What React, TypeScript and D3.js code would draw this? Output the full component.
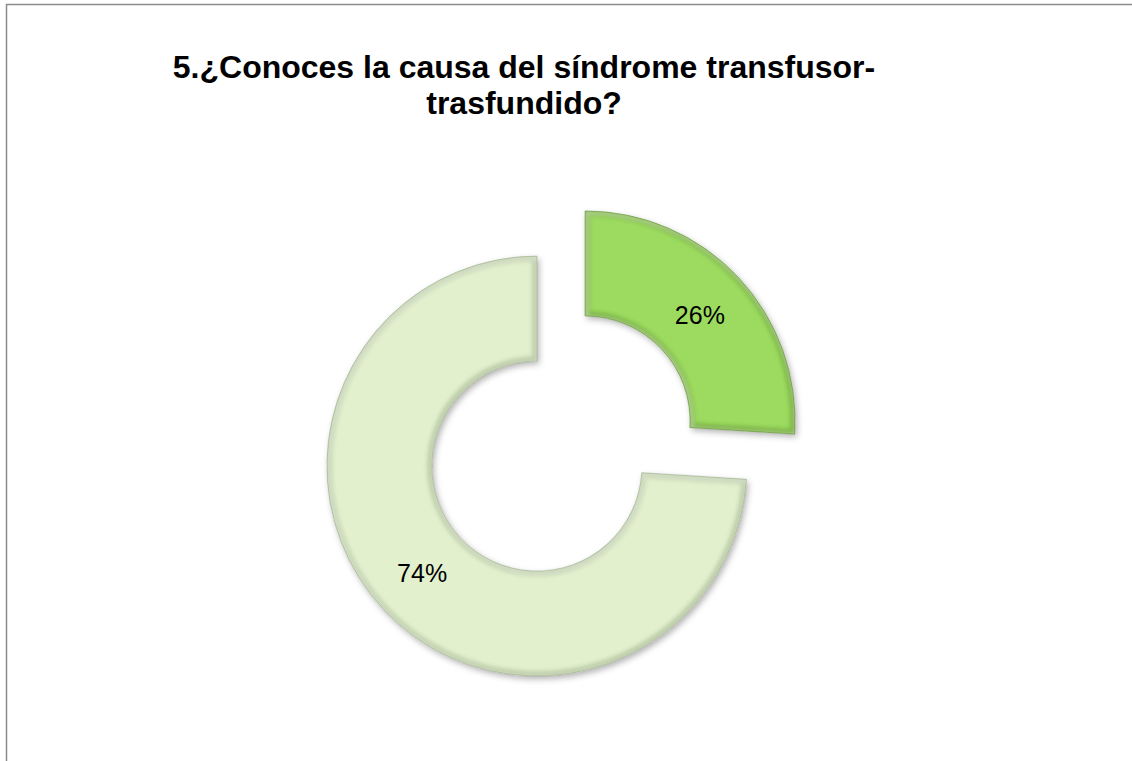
import React, { useEffect } from "react";
import * as d3 from "d3";

const categories = ["Sí", "No"];
const values = [26, 74];
const labels = ["26%", "74%"];
const colors = ["#9CDB5E", "#E2F0CE"];
const edgeColors = ["#5E8E30", "#98AA84"];
const titleLines = ["5.¿Conoces la causa del síndrome transfusor-", "trasfundido?"];

const W = 1132;
const H = 761;

export default function App() {
  useEffect(() => {
    document.body.style.margin = "0";
    document.body.style.overflow = "hidden";
  }, []);

  const cx = 561;
  const cy = 443.5;
  const outerR = 210;
  const innerR = 105;
  const explode = 33;

  const pie = d3
    .pie<number>()
    .sort(null)
    .value((d) => d)
    .startAngle(0)
    .endAngle(2 * Math.PI);
  const arcs = pie(values);
  const arcGen = d3.arc<d3.PieArcDatum<number>>().innerRadius(innerR).outerRadius(outerR);

  return (
    <svg
      width={W}
      height={H}
      style={{ position: "absolute", left: 0, top: 0, background: "#fff", display: "block" }}
      fontFamily="Arial, 'Liberation Sans', sans-serif"
    >
      <defs>
        <filter id="shadow" x="-20%" y="-20%" width="140%" height="140%">
          <feDropShadow dx="2" dy="3" stdDeviation="3" floodColor="#000" floodOpacity="0.3" />
        </filter>
        <filter id="soft" x="-10%" y="-10%" width="120%" height="120%">
          <feGaussianBlur stdDeviation="2" />
        </filter>
        {arcs.map((a, i) => (
          <clipPath id={`clip${i}`} key={i}>
            <path d={arcGen(a) || ""} />
          </clipPath>
        ))}
      </defs>
      <path d="M6.5,761 L6.5,4.5 L1132,4.5" fill="none" stroke="#8c8c8c" strokeWidth={1.5} />
      {titleLines.map((t, i) => (
        <text
          key={i}
          x={524}
          y={78 + i * 36}
          textAnchor="middle"
          fontSize={32}
          fontWeight="bold"
          fill="#000"
        >
          {t}
        </text>
      ))}
      {arcs.map((a, i) => {
        const mid = (a.startAngle + a.endAngle) / 2;
        const dx = Math.sin(mid) * explode;
        const dy = -Math.cos(mid) * explode;
        const [lx, ly] = d3
          .arc<d3.PieArcDatum<number>>()
          .innerRadius((innerR + outerR) / 2)
          .outerRadius((innerR + outerR) / 2)
          .centroid(a);
        const d = arcGen(a) || "";
        return (
          <g key={categories[i]} transform={`translate(${cx + dx},${cy + dy})`}>
            <path d={d} fill={colors[i]} filter="url(#shadow)" />
            <g clipPath={`url(#clip${i})`}>
              <path d={d} fill="none" stroke={edgeColors[i]} strokeWidth={9} opacity={0.55} filter="url(#soft)" />
              <path d={d} fill="none" stroke="#ffffff" strokeWidth={4} opacity={0.45} transform="translate(1.5,1.5)" filter="url(#soft)" />
            </g>
            <path d={d} fill="none" stroke={edgeColors[i]} strokeWidth={0.8} opacity={0.7} />
            <text x={lx} y={ly + (i === 0 ? 11 : 8)} textAnchor="middle" fontSize={25} fill="#000">
              {labels[i]}
            </text>
          </g>
        );
      })}
    </svg>
  );
}
